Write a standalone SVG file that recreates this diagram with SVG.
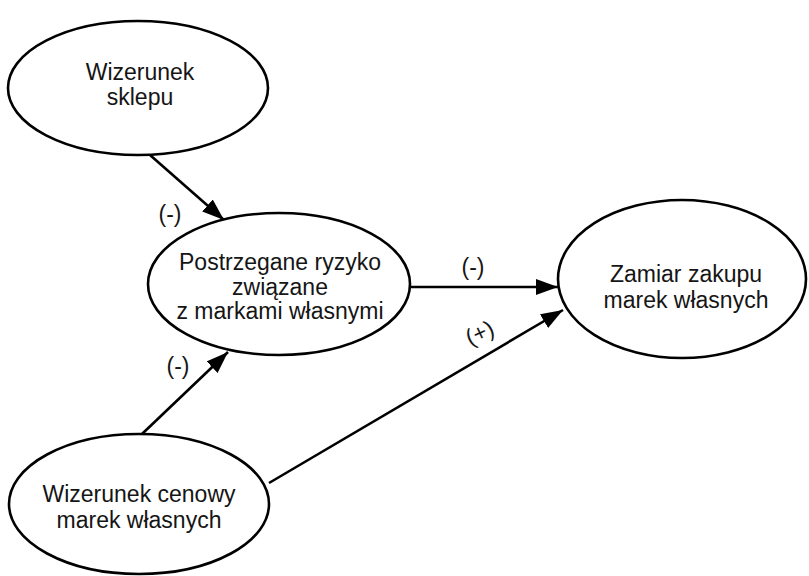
<svg xmlns="http://www.w3.org/2000/svg" width="809" height="576" viewBox="0 0 809 576">
<style>
.node ellipse{fill:#fff;stroke:#000;stroke-width:2.6}
text{font-family:"Liberation Sans",Arial,sans-serif;font-size:23px;fill:#151515;text-anchor:middle}
.edge line{stroke:#000;stroke-width:2.6}
</style>
<defs>
<marker id="ah" markerUnits="userSpaceOnUse" markerWidth="24" markerHeight="18" refX="22" refY="8" orient="auto">
<path d="M0,0 L22,8 L0,16 Z" fill="#000"/>
</marker>
</defs>
<rect width="809" height="576" fill="#fff"/>
<g id="connectors" class="edge">
<line x1="150" y1="155" x2="224" y2="220" marker-end="url(#ah)"/>
<line x1="410" y1="287" x2="558" y2="287" marker-end="url(#ah)"/>
<line x1="269" y1="483" x2="563" y2="310" marker-end="url(#ah)"/>
<line x1="142" y1="434" x2="228" y2="352" marker-end="url(#ah)"/>
<text x="170" y="222">(-)</text>
<text x="473" y="275">(-)</text>
<text x="178" y="374">(-)</text>
<text x="0" y="0" transform="translate(483,340) rotate(-25)">(+)</text>
</g>
<g id="n1" class="node">
<ellipse cx="138" cy="88" rx="130" ry="67"/>
<text x="140" y="80">Wizerunek</text>
<text x="140" y="105">sklepu</text>
</g>
<g id="n2" class="node">
<ellipse cx="279" cy="284" rx="131" ry="71"/>
<text x="280" y="270">Postrzegane ryzyko</text>
<text x="280" y="295">związane</text>
<text x="280" y="319">z markami własnymi</text>
</g>
<g id="n3" class="node">
<ellipse cx="682" cy="279" rx="124" ry="79"/>
<text x="686" y="282">Zamiar zakupu</text>
<text x="686" y="308">marek własnych</text>
</g>
<g id="n4" class="node">
<ellipse cx="139" cy="504" rx="130" ry="70"/>
<text x="139" y="502">Wizerunek cenowy</text>
<text x="139" y="528">marek własnych</text>
</g>
</svg>
